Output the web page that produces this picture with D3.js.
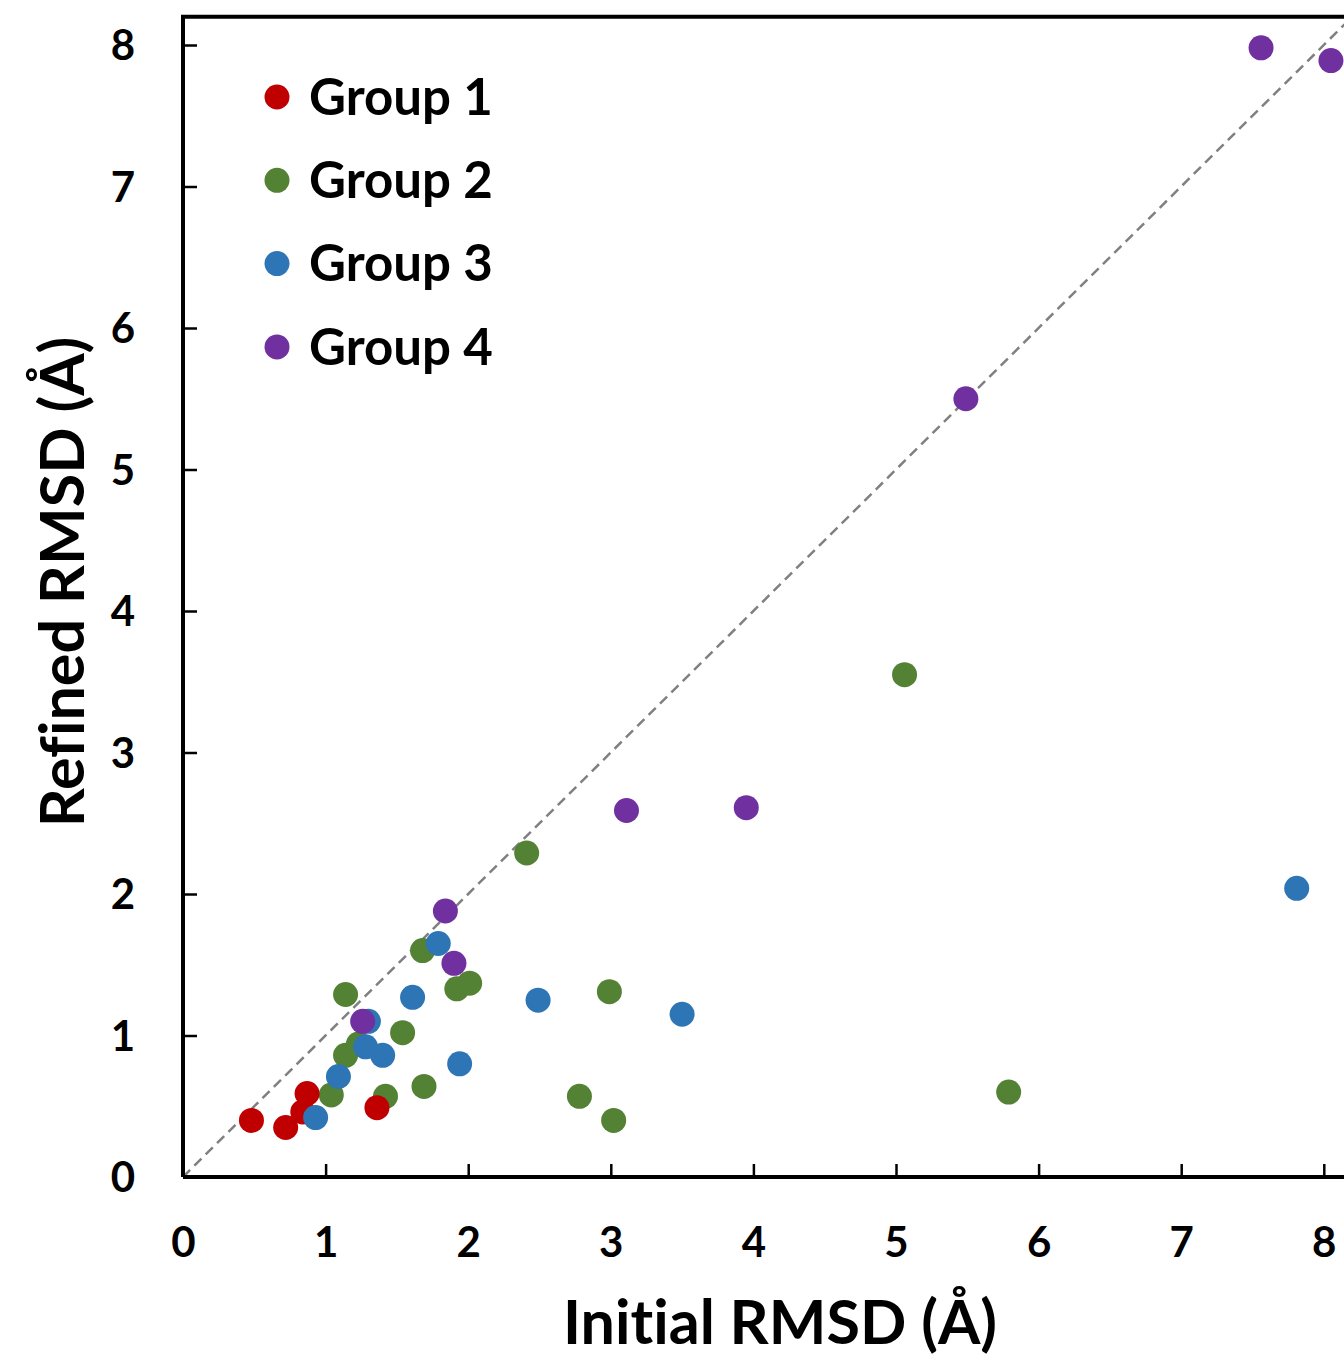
<!DOCTYPE html>
<html><head><meta charset="utf-8">
<script src="https://cdn.jsdelivr.net/npm/d3@7"></script>
<style>html,body{margin:0;padding:0;background:#fff;overflow:hidden} text{font-variant-ligatures:none;font-feature-settings:"liga" 0}</style>
</head><body>
<svg id="c" width="1344" height="1357"></svg>
<script>
const groups = ["Group 1","Group 2","Group 3","Group 4"];
const colors = ["#C00000","#548235","#2E75B6","#7030A0"];
const xTicks = [0,1,2,3,4,5,6,7,8];
const yTicks = [0,1,2,3,4,5,6,7,8];
const group1 = [[0.48,0.40],[0.72,0.35],[0.87,0.59],[0.84,0.46],[1.36,0.49]];
const group2 = [[1.04,0.58],[1.14,0.86],[1.23,0.94],[1.14,1.29],[1.42,0.57],[1.54,1.02],[1.69,0.64],[1.68,1.60],[1.92,1.33],[2.01,1.37],[2.41,2.29],[2.78,0.57],[2.99,1.31],[3.02,0.40],[5.06,3.55],[5.79,0.60]];
const group3 = [[0.93,0.42],[1.09,0.71],[1.28,0.92],[1.30,1.10],[1.40,0.86],[1.61,1.27],[1.79,1.65],[1.94,0.80],[2.49,1.25],[3.50,1.15],[7.81,2.04]];
const group4 = [[1.84,1.88],[1.90,1.51],[1.26,1.10],[3.11,2.59],[3.95,2.61],[5.49,5.50],[7.56,7.98],[8.05,7.89]];
const series = [group1, group2, group3, group4];
const xTitle = "Initial RMSD (Å)";
const yTitle = "Refined RMSD (Å)";

const svg = d3.select("#c");
const font = "Lato, 'Open Sans', sans-serif";
const x = d3.scaleLinear().domain([0, 8.2]).range([183, 183 + 8.2*142.6]);
const y = d3.scaleLinear().domain([0, 8.2]).range([1177, 1177 - 8.2*141.5]);

svg.append("line")
  .attr("x1", x(0)).attr("y1", y(0)).attr("x2", x(8.2)).attr("y2", y(8.2))
  .attr("stroke", "#808080").attr("stroke-width", 2.5).attr("stroke-dasharray", "10,6");

const order = [1,0,2,3];
order.forEach(i => {
  svg.append("g").selectAll("circle").data(series[i]).join("circle")
    .attr("cx", d => x(d[0])).attr("cy", d => y(d[1])).attr("r", 12.5)
    .attr("fill", colors[i]);
});

const xAxis = svg.append("g").attr("transform", `translate(0,${y(0)})`)
  .call(d3.axisBottom(x).tickValues(xTicks).tickSize(-13).tickPadding(0).tickFormat(d3.format("d")));
const yAxis = svg.append("g").attr("transform", `translate(${x(0)},0)`)
  .call(d3.axisLeft(y).tickValues(yTicks).tickSize(-14).tickPadding(0).tickFormat(d3.format("d")));
[xAxis, yAxis].forEach(a => {
  a.select(".domain").attr("stroke", "#000").attr("stroke-width", 4);
  a.selectAll(".tick line").attr("stroke", "#000").attr("stroke-width", 2.5);
  a.selectAll(".tick text").attr("fill", "#000").style("font-family", font)
    .style("font-weight", "bold").style("font-size", "42px");
});
xAxis.select(".domain").attr("d", `M${x(0)},0H1344`);
yAxis.select(".domain").attr("d", `M0,${y(0)}V${y(8.2)}`);
xAxis.selectAll(".tick text").attr("dy", null).attr("y", 80);
yAxis.selectAll(".tick text").attr("x", -48).attr("dy", "0.35em");

svg.append("line").attr("x1", x(0)-2).attr("x2", 1344).attr("y1", y(8.2)).attr("y2", y(8.2))
  .attr("stroke", "#000").attr("stroke-width", 4);

svg.append("text").attr("x", 780).attr("y", 1344).attr("text-anchor", "middle")
  .style("font-family", font).style("font-weight", "bold").style("font-size", "61px").text(xTitle);
svg.append("text").attr("transform", `translate(84,582) rotate(-90)`).attr("text-anchor", "middle")
  .style("font-family", font).style("font-weight", "bold").style("font-size", "61px").text(yTitle);

const leg = svg.append("g");
groups.forEach((g, i) => {
  const ly = 97 + i*83.3;
  leg.append("circle").attr("cx", 277).attr("cy", ly).attr("r", 12.5).attr("fill", colors[i]);
  leg.append("text").attr("x", 309).attr("y", ly).attr("dy", "0.35em")
    .style("font-family", font).style("font-weight", "bold").style("font-size", "51px").text(g);
});
</script>
</body></html>
